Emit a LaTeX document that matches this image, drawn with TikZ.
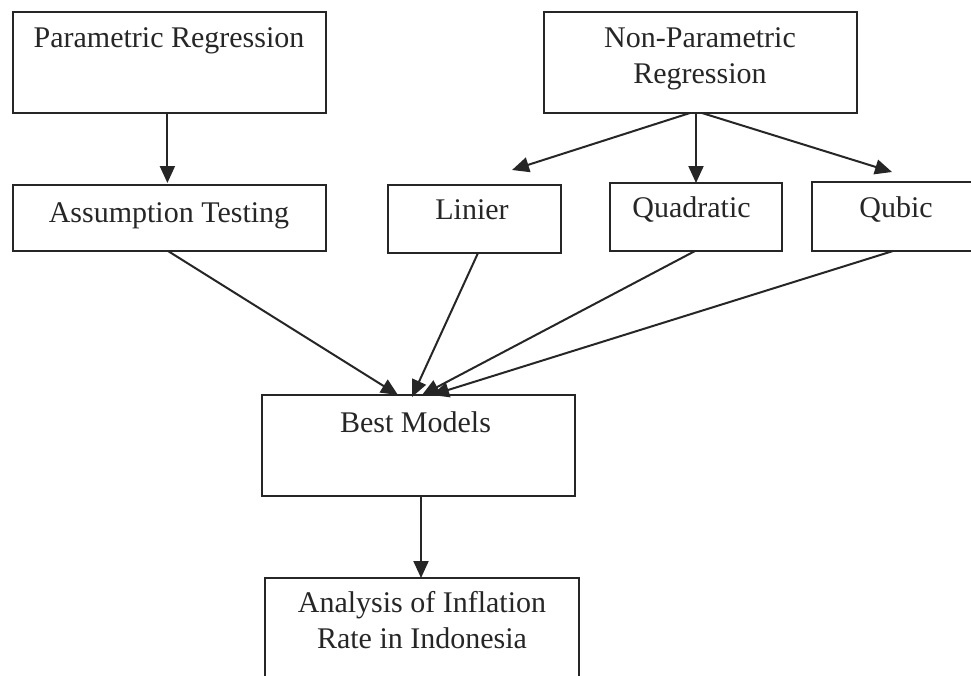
\documentclass[tikz,border=0pt]{standalone}
\usepackage{fontspec}
\setmainfont{Liberation Serif}
\usetikzlibrary{arrows.meta}
\begin{document}
\begin{tikzpicture}[x=1pt,y=-1pt,
  box/.style={draw=black!85, line width=2.2pt, inner sep=0pt, outer sep=0pt},
  txt/.style={anchor=base, inner sep=0pt, font=\fontsize{30}{35}\selectfont, text=black!85},
  conn/.style={draw=black!85, line width=2pt, -{Triangle[length=17pt,width=15pt]}}]
\clip (0,0) rectangle (971,675);
% boxes
\node[box, minimum width=313pt, minimum height=101pt] (par) at (169.4,62.5) {};
\node[box, minimum width=313pt, minimum height=101pt] (nonpar) at (700.5,62.5) {};
\node[box, minimum width=313pt, minimum height=66pt] (assum) at (169.4,218) {};
\node[box, minimum width=173pt, minimum height=68pt] (lin) at (474.5,219) {};
\node[box, minimum width=172pt, minimum height=68pt] (quad) at (696,217) {};
\node[box, minimum width=200pt, minimum height=69pt] (qub) at (912,216.5) {};
\node[box, minimum width=313pt, minimum height=101pt] (best) at (418.5,445.5) {};
\node[box, minimum width=314pt, minimum height=110pt] (ana) at (422,633) {};
% texts
\node[txt] (parT) at (169,47) {Parametric Regression};
\node[txt] (nonparT1) at (700,47) {Non-Parametric};
\node[txt] (nonparT2) at (700,83) {Regression};
\node[txt] (assumT) at (169,222) {Assumption Testing};
\node[txt] (linT) at (472,219) {Linier};
\node[txt] (quadT) at (691.5,217) {Quadratic};
\node[txt] (qubT) at (896,217) {Qubic};
\node[txt] (bestT) at (415.5,432) {Best Models};
\node[txt] (anaT1) at (422,612) {Analysis of Inflation};
\node[txt] (anaT2) at (422,648) {Rate in Indonesia};
% free ends
\coordinate (linTip) at (512,170);
\coordinate (qubTip) at (892,172);
% connectors
\draw[conn] ([xshift=-2pt]par.south) -- ([xshift=-2pt,yshift=2pt]assum.north);
\draw[conn] ([xshift=-10.5pt]nonpar.south) -- (linTip);
\draw[conn] (nonpar.south -| quad.north) -- (quad.north);
\draw[conn] ([xshift=1.5pt]nonpar.south) -- (qubTip);
\draw[conn] ([xshift=-1.4pt]assum.south) -- ([xshift=-20.5pt]best.north);
\draw[conn] ([xshift=3.5pt]lin.south) -- ([xshift=-6.5pt,yshift=-2pt]best.north);
\draw[conn] ([xshift=-1pt]quad.south) -- ([xshift=3.5pt]best.north);
\draw[conn] ([xshift=-19pt]qub.south) -- ([xshift=13.5pt]best.north);
\draw[conn] ([xshift=2.5pt]best.south) -- ([xshift=-1pt]ana.north);
\end{tikzpicture}
\end{document}
